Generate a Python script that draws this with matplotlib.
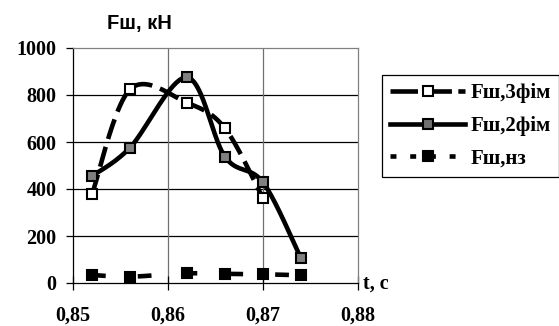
import numpy as np
import matplotlib
matplotlib.use('Agg')
import matplotlib.pyplot as plt

plt.rcParams['font.family'] = ['Liberation Serif', 'DejaVu Serif']

# дані
t = [0.852, 0.856, 0.862, 0.866, 0.870, 0.874]
f_3fim = [377, 824, 767, 658, 360]
f_2fim = [455, 576, 875, 537, 428, 105]
f_nz = [34, 27, 41, 39, 37, 33]

x_ticks = [0.85, 0.86, 0.87, 0.88]
x_labels = ['0,85', '0,86', '0,87', '0,88']
y_ticks = [0, 200, 400, 600, 800, 1000]


def smooth(x, y, n=40):
    # згладжування як в Excel (кубічні криві Безьє)
    x = np.asarray(x, float)
    y = np.asarray(y, float)
    px, py = [], []
    m = len(x)
    for i in range(m - 1):
        i0 = max(i - 1, 0)
        i3 = min(i + 2, m - 1)
        c1x = x[i] + (x[i + 1] - x[i0]) / 6
        c1y = y[i] + (y[i + 1] - y[i0]) / 6
        c2x = x[i + 1] - (x[i3] - x[i]) / 6
        c2y = y[i + 1] - (y[i3] - y[i]) / 6
        s = np.linspace(0, 1, n)
        px.extend((1 - s) ** 3 * x[i] + 3 * (1 - s) ** 2 * s * c1x + 3 * (1 - s) * s ** 2 * c2x + s ** 3 * x[i + 1])
        py.extend((1 - s) ** 3 * y[i] + 3 * (1 - s) ** 2 * s * c1y + 3 * (1 - s) * s ** 2 * c2y + s ** 3 * y[i + 1])
    return px, py


fig = plt.figure(figsize=(5.59, 3.26), dpi=100)
ax = fig.add_axes([73 / 559, 1 - 283 / 326, 285 / 559, 235 / 326])

lw = 3.3
ms = 6.5
sx, sy = smooth(t[:len(f_3fim)], f_3fim)
ax.plot(sx, sy, color='black', lw=lw, dashes=(4.5, 1.8), solid_capstyle='butt', zorder=3)
ax.plot(t[:len(f_3fim)], f_3fim, ls='none', marker='s', ms=ms, mfc='white', mec='black', mew=1.5, zorder=4)

sx, sy = smooth(t, f_2fim)
ax.plot(sx, sy, color='black', lw=lw, solid_capstyle='round', zorder=3)
ax.plot(t, f_2fim, ls='none', marker='s', ms=ms, mfc='#808080', mec='black', mew=1.5, zorder=4)

sx, sy = smooth(t, f_nz)
ax.plot(sx, sy, color='black', lw=lw, dashes=(3, 7), zorder=3)
ax.plot(t, f_nz, ls='none', marker='s', ms=ms, mfc='black', mec='black', mew=1.5, zorder=4)

# елементи легенди
h1, = ax.plot([], [], color='black', lw=lw, dashes=(6, 1.4), marker='s', ms=ms, mfc='white', mec='black', mew=1.5)
h2, = ax.plot([], [], color='black', lw=lw, marker='s', ms=ms, mfc='#707070', mec='black', mew=1.5)
h3, = ax.plot([], [], color='black', lw=lw, dashes=(1.3, 3.0), marker='s', ms=ms, mfc='black', mec='black', mew=1.5)

ax.set_xlim(0.85, 0.88)
ax.set_ylim(0, 1000)
ax.set_xticks(x_ticks)
ax.set_xticklabels(x_labels)
ax.set_yticks(y_ticks)

for v in y_ticks[1:-1]:
    ax.axhline(v, color='black', lw=0.9, zorder=1)
for v in x_ticks[1:-1]:
    ax.axvline(v, color='#707070', lw=0.9, zorder=1)

ax.spines['top'].set_color('#808080')
ax.spines['right'].set_color('#808080')
ax.spines['left'].set_color('black')
ax.spines['bottom'].set_color('black')
for s in ax.spines.values():
    s.set_linewidth(0.9)

ax.tick_params(axis='y', direction='out', length=5, width=0.9, pad=7, labelsize=14.5)
ax.tick_params(axis='x', direction='inout', length=10, width=0.9, pad=11, labelsize=14.5)
for lab in ax.get_xticklabels() + ax.get_yticklabels():
    lab.set_fontweight('bold')

fig.text(139 / 559, 1 - 23 / 326, 'Fш, кН', family=['Liberation Sans', 'DejaVu Sans'],
         fontsize=14.5, fontweight='bold', ha='center', va='center')
fig.text(363 / 559, 1 - 284 / 326, 't, c', fontsize=14.5, fontweight='bold', ha='left', va='center')

leg = fig.legend([h1, h2, h3], ['Fш,3фім', 'Fш,2фім', 'Fш,нз'],
                 loc='upper left', bbox_to_anchor=(382 / 559, 1 - 75 / 326),
                 borderaxespad=0, fancybox=False, framealpha=1, edgecolor='black',
                 handlelength=3.6, handletextpad=0.25, labelspacing=0.6,
                 borderpad=0.4, prop={'size': 15, 'weight': 'bold'})
leg.get_frame().set_linewidth(0.9)

fig.savefig('out.png', dpi=100)
